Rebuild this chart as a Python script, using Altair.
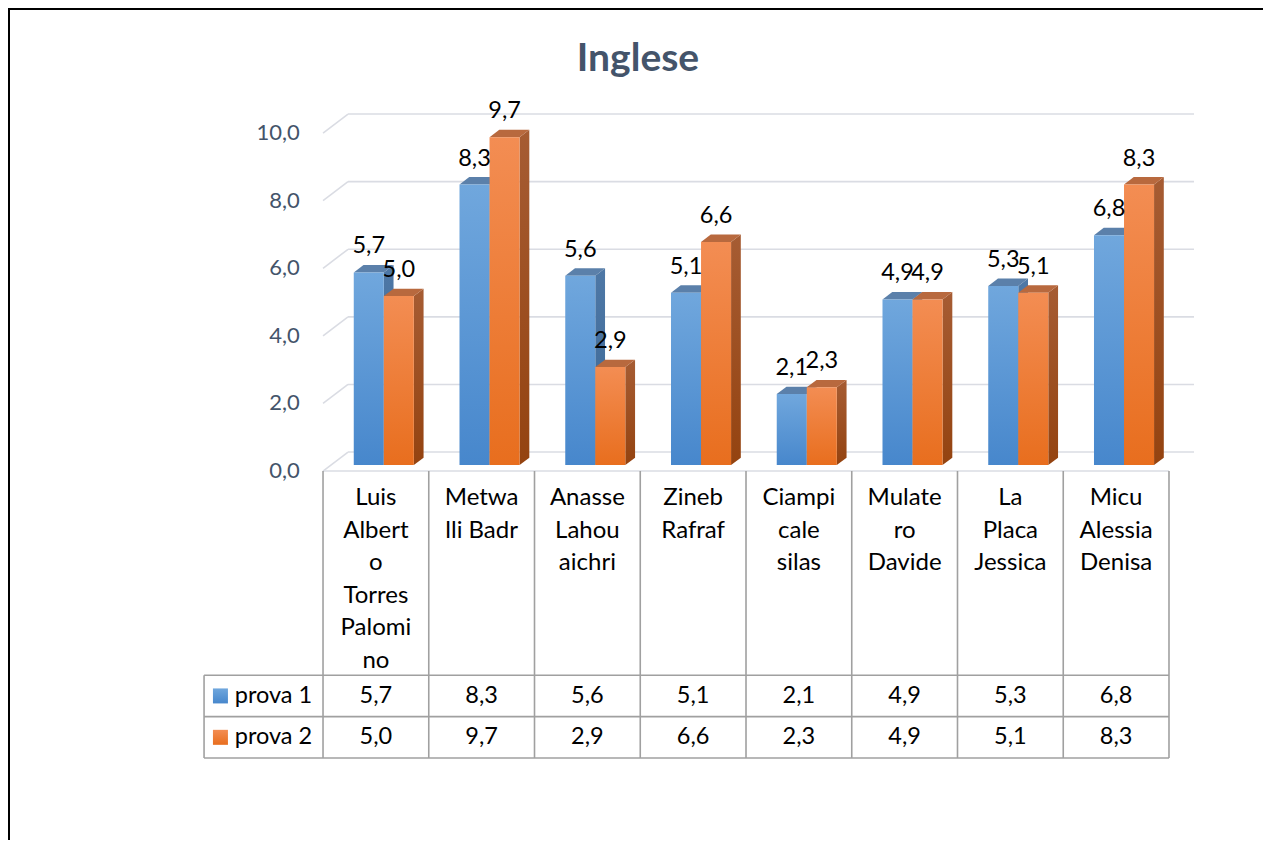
import altair as alt
import pandas as pd

# ---------------- data ----------------
title_text = "Inglese"
categories = ["Luis Alberto Torres Palomino", "Metwalli Badr", "Anasse Lahouaichri",
              "Zineb Rafraf", "Ciampicale silas", "Mulatero Davide",
              "La Placa Jessica", "Micu Alessia Denisa"]
category_lines = [["Luis", "Albert", "o", "Torres", "Palomi", "no"],
                  ["Metwa", "lli Badr"],
                  ["Anasse", "Lahou", "aichri"],
                  ["Zineb", "Rafraf"],
                  ["Ciampi", "cale", "silas"],
                  ["Mulate", "ro", "Davide"],
                  ["La", "Placa", "Jessica"],
                  ["Micu", "Alessia", "Denisa"]]
series_names = ["prova 1", "prova 2"]
prova1 = [5.7, 8.3, 5.6, 5.1, 2.1, 4.9, 5.3, 6.8]
prova2 = [5.0, 9.7, 2.9, 6.6, 2.3, 4.9, 5.1, 8.3]
y_ticks = [0, 2, 4, 6, 8, 10]

# ---------------- layout / style ----------------
W, H = 1255, 832
XMIN, XMAX = -2.979, 8.889
YMIN, YMAX = -10.915, 13.70
BW = 0.284                      # bar width (category units)
DEPTH_DX, DEPTH_DY = 0.2364, 0.562   # projection of full depth front->back wall
Z_FRONT, Z_BACK = 0.316, 0.706
HEADER_H, ROW_H = 6.04, 1.225
LEG_X = -1.125
AXIS_LABEL_X = -0.22
FIRST_LINE_Y = -1.006
FONT = "Lato"
SLATE = "#44546A"
GRID = "#dadce3"
TABLE_LINE = "#a0a0a0"

FRONT = [("#70A7DD", "#4787CC"), ("#F38D53", "#E86E1E")]
SIDE = [("#4E78A6", "#3B6694"), ("#A65C33", "#944310")]
TOP = ["#5B80AA", "#B8693E"]

XS = alt.Scale(domain=[XMIN, XMAX], nice=False, zero=False)
YS = alt.Scale(domain=[YMIN, YMAX], nice=False, zero=False)


def fmt(v):
    return f"{v:.1f}".replace(".", ",")


def X(f):
    return alt.X(f, type="quantitative", scale=XS, axis=None)


def Y(f):
    return alt.Y(f, type="quantitative", scale=YS, axis=None)


def vgrad(top, bottom):
    return alt.Gradient(gradient="linear", x1=0, y1=0, x2=0, y2=1,
                        stops=[alt.GradientStop(color=top, offset=0),
                               alt.GradientStop(color=bottom, offset=1)])


n = len(categories)
values = [prova1, prova2]
y0 = Z_FRONT * DEPTH_DY
dzx = (Z_BACK - Z_FRONT) * DEPTH_DX
dzy = (Z_BACK - Z_FRONT) * DEPTH_DY

layers = []

# ---- gridlines (left wall diagonals + back wall) ----
grid_rows = []
for t in y_ticks:
    grid_rows.append(dict(x=0, x2=DEPTH_DX, y=t, y2=t + DEPTH_DY))
    grid_rows.append(dict(x=DEPTH_DX, x2=n + DEPTH_DX, y=t + DEPTH_DY, y2=t + DEPTH_DY))
grid_rows.append(dict(x=0, x2=n, y=0, y2=0))
grid = alt.Chart(pd.DataFrame(grid_rows)).mark_rule(color=GRID, strokeWidth=1.6).encode(
    x=X("x"), x2="x2", y=Y("y"), y2="y2")
layers.append(grid)

# ---- y tick labels ----
tick_df = pd.DataFrame({"t": y_ticks, "lab": [fmt(t) for t in y_ticks],
                        "x": [AXIS_LABEL_X] * len(y_ticks)})
layers.append(alt.Chart(tick_df).mark_text(font=FONT, fontSize=22, color=SLATE,
                                           align="right", baseline="middle").encode(
    x=X("x"), y=Y("t"), text="lab:N"))

# ---- 3D bars ----
label_rows = []
for s, vals in enumerate(values):
    front_rows, side_rows, top_rows = [], [], []
    for i, v in enumerate(vals):
        xl = i + 0.5 + (s - 1) * BW + Z_FRONT * DEPTH_DX
        xr = xl + BW
        y1 = v + y0
        bid = f"{s}-{i}"
        front_rows.append(dict(xl=xl, xr=xr, y0=y0, y1=y1))
        side_rows += [dict(id=bid, x=xr, yt=y1, yb=y0),
                      dict(id=bid, x=xr + dzx, yt=y1 + dzy, yb=y0 + dzy)]
        top_rows += [dict(id=bid, y=y1, xa=xl, xb=xr),
                     dict(id=bid, y=y1 + dzy, xa=xl + dzx, xb=xr + dzx)]
        label_rows.append(dict(x=(xl + xr) / 2, y=y1, lab=fmt(v)))
    side = alt.Chart(pd.DataFrame(side_rows)).mark_area(
        orient="vertical", fill=vgrad(*SIDE[s]), strokeWidth=0).encode(
        x=X("x"), y=Y("yt"), y2="yb", detail="id:N")
    top = alt.Chart(pd.DataFrame(top_rows)).mark_area(
        orient="horizontal", fill=TOP[s], strokeWidth=0).encode(
        y=Y("y"), x=X("xa"), x2="xb", detail="id:N")
    front = alt.Chart(pd.DataFrame(front_rows)).mark_rect(
        fill=vgrad(*FRONT[s])).encode(
        x=X("xl"), x2="xr", y=Y("y0"), y2="y1")
    layers += [side, top, front]

layers.append(alt.Chart(pd.DataFrame(label_rows)).mark_text(
    font=FONT, fontSize=23.5, color="black", align="center", baseline="alphabetic", dy=-19).encode(
    x=X("x"), y=Y("y"), text="lab:N"))

# ---- data table ----
r1 = -HEADER_H
r2 = -HEADER_H - ROW_H
r3 = -HEADER_H - 2 * ROW_H
tl = []
for k in range(n + 1):
    tl.append(dict(x=k, x2=k, y=0, y2=r3))
for yy in (r1, r2, r3):
    tl.append(dict(x=LEG_X, x2=n, y=yy, y2=yy))
tl.append(dict(x=LEG_X, x2=LEG_X, y=r1, y2=r3))
layers.append(alt.Chart(pd.DataFrame(tl)).mark_rule(color=TABLE_LINE, strokeWidth=1.6).encode(
    x=X("x"), x2="x2", y=Y("y"), y2="y2"))

head_df = pd.DataFrame({"x": [i + 0.5 for i in range(n)],
                        "y": [FIRST_LINE_Y] * n,
                        "txt": ["\n".join(l) for l in category_lines]})
layers.append(alt.Chart(head_df).mark_text(
    font=FONT, fontSize=24, color="black", align="center", baseline="alphabetic",
    lineBreak="\n", lineHeight=32.5).encode(x=X("x"), y=Y("y"), text="txt:N"))

cell_rows = []
for s, vals in enumerate(values):
    yc = -HEADER_H - ROW_H * (s + 0.5)
    for i, v in enumerate(vals):
        cell_rows.append(dict(x=i + 0.5, y=yc, lab=fmt(v)))
layers.append(alt.Chart(pd.DataFrame(cell_rows)).mark_text(
    font=FONT, fontSize=23.5, color="black", align="center", baseline="middle").encode(
    x=X("x"), y=Y("y"), text="lab:N"))

for s, name in enumerate(series_names):
    yc = -HEADER_H - ROW_H * (s + 0.5)
    ldf = pd.DataFrame({"x": [LEG_X + 0.155], "xt": [LEG_X + 0.29], "y": [yc], "name": [name]})
    layers.append(alt.Chart(ldf).mark_square(size=225, fill=vgrad(*FRONT[s]), opacity=1,
                                             strokeWidth=0).encode(x=X("x"), y=Y("y")))
    layers.append(alt.Chart(ldf).mark_text(font=FONT, fontSize=23.5, color="black",
                                           align="left", baseline="middle").encode(
        x=X("xt"), y=Y("y"), text="name:N"))

# ---- title and frame ----
layers.append(alt.Chart(pd.DataFrame({"t": [title_text]})).mark_text(
    font=FONT, fontSize=39, fontWeight="bold", color=SLATE, align="center",
    baseline="alphabetic").encode(x=alt.value(630), y=alt.value(63), text="t:N"))
layers.append(alt.Chart(pd.DataFrame({"a": [0]})).mark_rule(color="black", strokeWidth=3).encode(
    x=alt.value(0), x2=alt.value(W), y=alt.value(0.5)))
layers.append(alt.Chart(pd.DataFrame({"a": [0]})).mark_rule(color="black", strokeWidth=3).encode(
    x=alt.value(0.5), y=alt.value(0), y2=alt.value(H)))

chart = alt.layer(*layers).properties(
    width=W, height=H, padding=0,
    autosize=alt.AutoSizeParams(type="none"),
    background="white",
).configure_view(stroke=None)

chart.save("out.html", embed_options={"renderer": "svg", "actions": False})
